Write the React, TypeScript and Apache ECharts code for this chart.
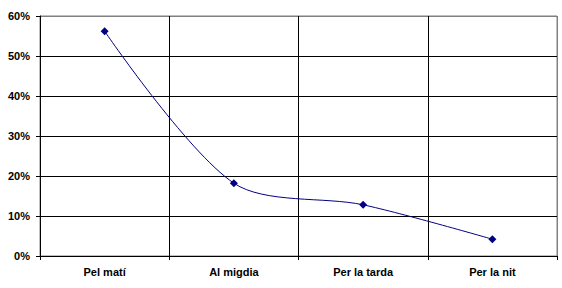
import React, { useEffect, useRef } from "react";
import * as echarts from "echarts";

const categories = ["Pel matí", "Al migdia", "Per la tarda", "Per la nit"];
const values = [56.2, 18.2, 12.8, 4.2];
const yTicks = [0, 10, 20, 30, 40, 50, 60];

export default function App() {
  const ref = useRef<HTMLDivElement>(null);
  useEffect(() => {
    if (!ref.current) return;
    const chart = echarts.init(ref.current, null, { renderer: "svg" });
    const font = { fontFamily: "Arial, Liberation Sans, sans-serif", fontWeight: "bold" as const, fontSize: 11, color: "#000" };
    chart.setOption({
      animation: false,
      backgroundColor: "#fff",
      grid: { left: 40, right: 5, top: 16, bottom: 32, show: true, borderColor: "#808080", borderWidth: 1, backgroundColor: "transparent" },
      xAxis: {
        type: "category",
        data: categories,
        boundaryGap: true,
        axisLine: { show: true, lineStyle: { color: "#000", width: 1 } },
        axisTick: { show: true, length: 4, lineStyle: { color: "#000" } },
        axisLabel: { ...font, margin: 10 },
        splitLine: { show: true, lineStyle: { color: ["#000", "#000", "#000", "#000", "#808080"], width: 1 } },
      },
      yAxis: {
        type: "value",
        min: yTicks[0],
        max: yTicks[yTicks.length - 1],
        interval: 10,
        axisLine: { show: true, lineStyle: { color: "#000", width: 1 } },
        axisTick: { show: true, length: 4, lineStyle: { color: "#000" } },
        axisLabel: { ...font, margin: 10, formatter: (v: number) => v + "%" },
        splitLine: { show: true, lineStyle: { color: ["#000", "#000", "#000", "#000", "#000", "#000", "#808080"], width: 1 } },
      },
      series: [
        {
          type: "line",
          data: values,
          smooth: 0.3,
          symbol: "diamond",
          symbolSize: 8,
          lineStyle: { color: "#000080", width: 1 },
          itemStyle: { color: "#000080" },
        },
      ],
    });
    return () => chart.dispose();
  }, []);
  return <div ref={ref} style={{ position: "fixed", left: 0, top: 0, width: 562, height: 288 }} />;
}
